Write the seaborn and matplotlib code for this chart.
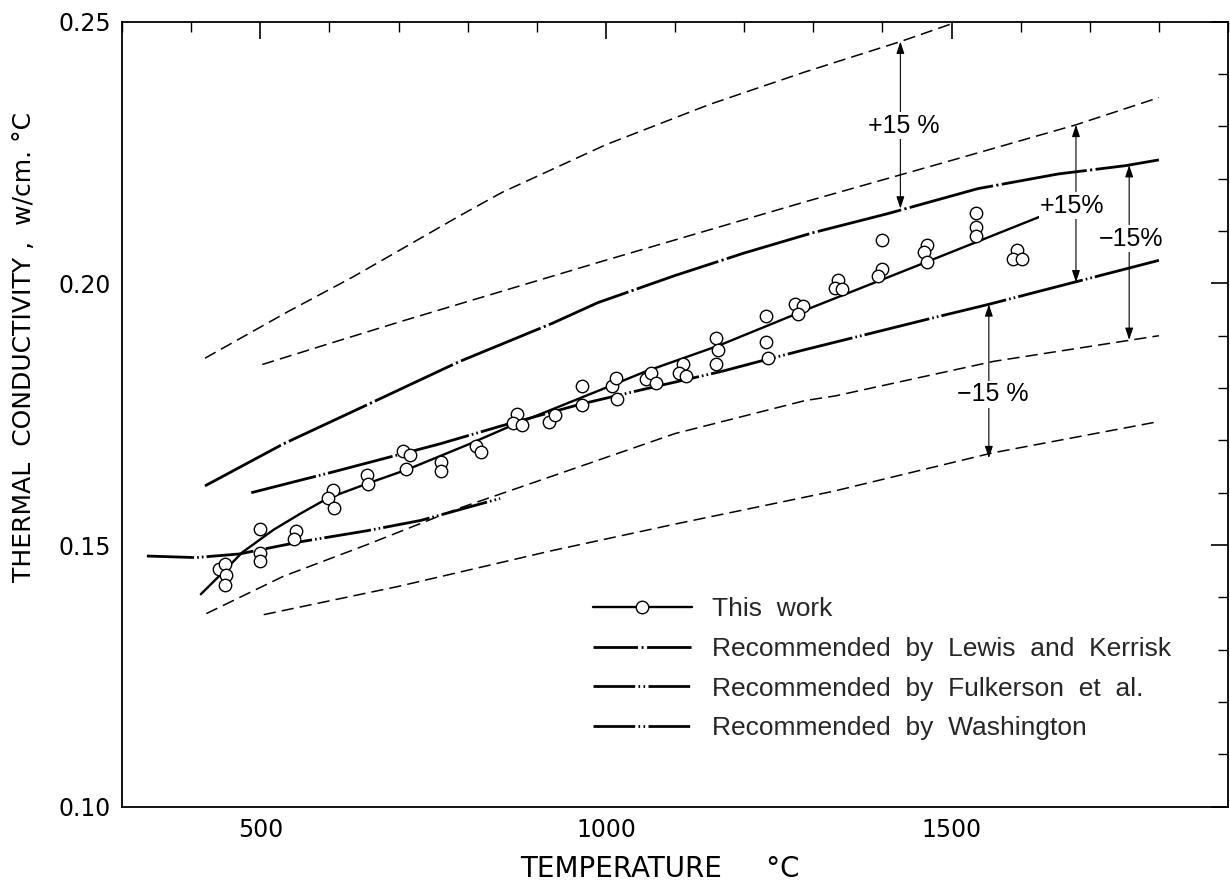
import matplotlib
matplotlib.use("Agg")
import matplotlib.pyplot as plt
import seaborn as sns
import pandas as pd
from matplotlib.lines import Line2D
from matplotlib.ticker import FixedLocator, MultipleLocator, FormatStrFormatter

# ---------------- data ----------------
# measured points ("This work")
work_T = [440, 449, 450, 449, 499, 499, 499, 551, 549, 605, 598, 607, 655, 656,
          711, 707, 716, 762, 762, 812, 819, 872, 866, 879, 917, 927, 966, 966,
          1009, 1015, 1016, 1058, 1065, 1073, 1112, 1106, 1116, 1160, 1162, 1160,
          1231, 1231, 1234, 1273, 1285, 1278, 1336, 1332, 1342, 1399, 1399, 1394,
          1464, 1460, 1465, 1536, 1536, 1536, 1595, 1589, 1602]
work_k = [0.1455, 0.1464, 0.1443, 0.1424, 0.1531, 0.1485, 0.1469, 0.1526, 0.1511,
          0.1606, 0.1590, 0.1571, 0.1633, 0.1616, 0.1645, 0.1680, 0.1672, 0.1658,
          0.1642, 0.1690, 0.1677, 0.1750, 0.1734, 0.1730, 0.1735, 0.1749, 0.1804,
          0.1767, 0.1804, 0.1820, 0.1779, 0.1817, 0.1828, 0.1810, 0.1846, 0.1828,
          0.1823, 0.1896, 0.1873, 0.1846, 0.1937, 0.1888, 0.1858, 0.1961, 0.1956,
          0.1941, 0.2006, 0.1991, 0.1989, 0.2083, 0.2028, 0.2015, 0.2074, 0.2060,
          0.2041, 0.2135, 0.2107, 0.2091, 0.2064, 0.2046, 0.2046]

# smoothed curve of this work
fit_T = [414, 440, 474, 519, 558, 597, 656, 714, 797, 858, 997, 1056, 1163, 1300, 1466, 1627]
fit_k = [0.1406, 0.1440, 0.1486, 0.1529, 0.1560, 0.1589, 0.1618, 0.1645, 0.1690,
         0.1725, 0.1799, 0.1831, 0.1881, 0.1955, 0.2042, 0.2127]

# Lewis and Kerrisk
lewis_T = [420, 533, 653, 787, 923, 988, 1100, 1200, 1300, 1407, 1538, 1654, 1752, 1800]
lewis_k = [0.1613, 0.1693, 0.1767, 0.1850, 0.1924, 0.1963, 0.2015, 0.2058, 0.2097,
           0.2133, 0.2181, 0.2209, 0.2225, 0.2236]
lewis_hi_T = [420, 540, 635, 791, 850, 1000, 1150, 1288, 1426, 1500]
lewis_hi_k = [0.1857, 0.1946, 0.2013, 0.2131, 0.2174, 0.2265, 0.2342, 0.2404, 0.2462, 0.2496]
lewis_lo_T = [422, 533, 653, 787, 923, 1100, 1288, 1332, 1561, 1800]
lewis_lo_k = [0.1369, 0.1440, 0.1500, 0.1570, 0.1632, 0.1713, 0.1776, 0.1785, 0.1851, 0.1900]

# Fulkerson et al.
fulk_T = [487, 609, 759, 847, 963, 1056, 1168, 1231, 1284, 1479, 1554, 1674, 1800]
fulk_k = [0.1600, 0.1641, 0.1693, 0.1727, 0.1769, 0.1798, 0.1832, 0.1854, 0.1872,
          0.1936, 0.1960, 0.2001, 0.2044]
fulk_hi_T = [503, 600, 708, 994, 1286, 1500, 1680, 1800]
fulk_hi_k = [0.1845, 0.1885, 0.1929, 0.2042, 0.2155, 0.2235, 0.2303, 0.2355]
fulk_lo_T = [505, 700, 921, 1100, 1330, 1559, 1800]
fulk_lo_k = [0.1367, 0.1421, 0.1489, 0.1540, 0.1603, 0.1676, 0.1736]

# Washington
wash_T = [336, 407, 470, 557, 653, 732, 847]
wash_k = [0.1479, 0.1476, 0.1483, 0.1506, 0.1527, 0.1547, 0.1589]

legend_labels = ["This  work",
                 "Recommended  by  Lewis  and  Kerrisk",
                 "Recommended  by  Fulkerson  et  al.",
                 "Recommended  by  Washington"]

x_major = [500, 1000, 1500]
y_major = [0.10, 0.15, 0.20, 0.25]

# +/-15 % markers: temperature, lower end, upper end, label position, text
ann_T = [1426, 1680, 1757, 1554]
ann_lo = [0.2143, 0.2002, 0.1892, 0.1666]
ann_hi = [0.2462, 0.2303, 0.2226, 0.1960]
ann_text_T = [1431, 1675, 1760, 1559]
ann_text_k = [0.2301, 0.2148, 0.2085, 0.1788]
ann_text = ["+15 %", "+15%", "\u221215%", "\u221215 %"]

# ---------------- plotting ----------------
sns.set_theme(style="white")
plt.rcParams['font.family'] = ['DejaVu Sans']

fig = plt.figure(figsize=(12.3, 8.9), dpi=100)
ax = fig.add_axes([0.0992, 0.0936, 0.8992, 0.882])

K = "black"
dash_ls = (0, (8, 4))
lewis_ls = (0, (31, 1.2, 0.8, 1.2))
fulk_ls = (0, (24, 1.1, 0.6, 1.1, 0.6, 1.1))
wash_ls = (0, (17, 1.1, 0.6, 1.1, 0.6, 1.1))


def line(T, k, lw, ls, z=2):
    sns.lineplot(x=T, y=k, ax=ax, color=K, linewidth=lw, linestyle=ls,
                 estimator=None, sort=False, legend=False, zorder=z)


for T, k in [(lewis_hi_T, lewis_hi_k), (lewis_lo_T, lewis_lo_k),
             (fulk_hi_T, fulk_hi_k), (fulk_lo_T, fulk_lo_k)]:
    line(T, k, 1.1, dash_ls)

line(lewis_T, lewis_k, 2.0, lewis_ls)
line(fulk_T, fulk_k, 2.0, fulk_ls)
line(wash_T, wash_k, 2.0, wash_ls)
line(fit_T, fit_k, 1.7, "-", z=3)

sns.scatterplot(x=work_T, y=work_k, ax=ax, s=80, marker="o", facecolor="white",
                edgecolor=K, linewidth=1.0, zorder=4, legend=False)

# +/- 15 % arrows
for T, lo, hi, tT, tk, txt in zip(ann_T, ann_lo, ann_hi, ann_text_T, ann_text_k, ann_text):
    ax.annotate("", xy=(T, hi), xytext=(T, lo),
                arrowprops=dict(arrowstyle="<|-|>,head_length=0.6,head_width=0.2",
                                lw=0.8, color=K, shrinkA=0, shrinkB=0), zorder=5)
    ax.text(tT, tk, txt, ha="center", va="center", fontsize=18,
            family=["Liberation Sans", "DejaVu Sans"], color=K, zorder=6,
            bbox=dict(facecolor="white", edgecolor="none", pad=1.0))

ax.set_xlim(300, 1900)
ax.set_ylim(0.10, 0.25)
ax.xaxis.set_major_locator(FixedLocator(x_major))
ax.xaxis.set_minor_locator(MultipleLocator(100))
ax.yaxis.set_major_locator(FixedLocator(y_major))
ax.yaxis.set_minor_locator(MultipleLocator(0.01))
ax.yaxis.set_major_formatter(FormatStrFormatter("%.2f"))
ax.tick_params(which="both", direction="in", top=True, right=True, colors=K)
ax.tick_params(which="major", length=12, width=1.2, labelsize=17, pad=8)
ax.tick_params(which="minor", length=7, width=1.0)
for s in ax.spines.values():
    s.set_color(K)
    s.set_linewidth(1.3)

ax.set_xlabel("TEMPERATURE     \u00b0C", fontsize=20, color=K)
ax.xaxis.set_label_coords(0.486, -0.062)
ax.set_ylabel("THERMAL  CONDUCTIVITY ,  w/cm. \u00b0C", fontsize=18, color=K)
ax.yaxis.set_label_coords(-0.078, 0.585)

handles = [
    Line2D([], [], color=K, lw=1.7, marker="o", ms=9, mfc="white", mec=K, mew=1.0),
    Line2D([], [], color=K, lw=2.0, linestyle=(0, (16, 1.3, 0.7, 1.3))),
    Line2D([], [], color=K, lw=2.0, linestyle=(0, (15, 1.2, 0.6, 1.2, 0.6, 1.2))),
    Line2D([], [], color=K, lw=2.0, linestyle=(0, (15, 1.2, 0.6, 1.2, 0.6, 1.2))),
]
leg = ax.legend(handles, legend_labels, loc="upper left",
                bbox_to_anchor=(593 / 1230, 1 - 597 / 890), bbox_transform=fig.transFigure,
                frameon=False, borderpad=0, borderaxespad=0, handlelength=3.75,
                handletextpad=0.76, labelspacing=0.6, numpoints=1,
                prop={"family": ["Liberation Sans", "DejaVu Sans"], "size": 19})

fig.savefig("out.png", dpi=100, facecolor="white")
